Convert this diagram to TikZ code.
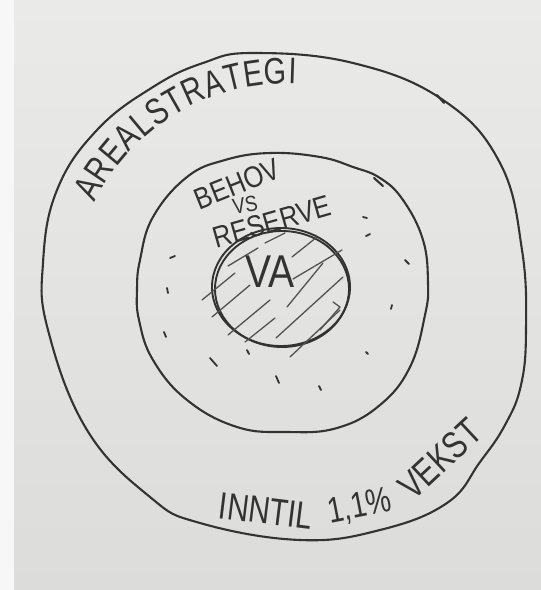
\documentclass[tikz,border=0pt]{standalone}
\usepackage{fontspec}
\newfontfamily\hand[FakeStretch=0.78]{Liberation Sans}
\newfontfamily\handw[FakeStretch=0.85]{Liberation Sans}
\usetikzlibrary{decorations.text}
\definecolor{papertop}{HTML}{EAEAE8}
\definecolor{paperbot}{HTML}{DCDCDA}
\definecolor{paperedge}{HTML}{F7F7F7}
\definecolor{ink}{HTML}{333333}
\tikzset{
  pen/.style={draw=ink, line width=2.1pt, line cap=round, line join=round},
  boldpen/.style={draw=ink, line width=1.9pt, line cap=round},
  hatchline/.style={draw=ink!85, line width=1.3pt, line cap=round, line join=round},
  dotmark/.style={draw=ink, line width=1.8pt, line cap=round},
  handtxt/.style={inner sep=0pt, text=ink}
}
\begin{document}
\begin{tikzpicture}[x=1pt,y=1pt]
\useasboundingbox (0,0) rectangle (541,-590);
\shade[top color=papertop, bottom color=paperbot] (0,0) rectangle (541,-590);
\fill[paperedge] (0,0) rectangle (14,-590);

% outer ring
\draw[pen] plot[smooth cycle, tension=0.7] coordinates {
  (253,-53) (353,-63) (443,-100) (500,-163) (522,-250) (526,-330) (521,-385)
  (505,-425) (480,-462) (447,-503) (380,-530) (300,-540) (200,-523) (150,-497)
  (87,-430) (48,-330) (43,-263) (57,-190) (97,-130) (153,-87) (203,-63)};
\draw[pen] (437,-95) -- (444,-103);

% middle ring
\draw[pen] plot[smooth cycle, tension=0.7] coordinates {
  (270,-153) (320,-157) (353,-167) (380,-178) (403,-200) (423,-240) (428,-283)
  (425,-315) (410,-367) (380,-405) (337,-428) (287,-432) (237,-427) (187,-400)
  (153,-360) (139,-320) (137,-290) (140,-260) (153,-217) (187,-177) (225,-160)};
\draw[pen] (374,-178) -- (383,-186);

% centre circle (double stroke)
\draw[boldpen] (281,-287) ellipse [x radius=69, y radius=59];
\draw[boldpen] (282,-289) ellipse [x radius=67, y radius=58];

% hatching
\draw[hatchline] (202,-300) -- (235,-273);
\draw[hatchline] (212,-317) -- (250,-285);
\draw[hatchline] (228,-335) -- (270,-300);
\draw[hatchline] (245,-342) -- (275,-318);
\draw[hatchline] (276,-338) -- (343,-277);
\draw[hatchline] (290,-357) -- (340,-310);
\draw[hatchline] (287,-307) -- (323,-263);
\draw[hatchline] (333,-302) -- (340,-307) -- (320,-330);
\draw[hatchline] (228,-266) -- (258,-248);
\draw[hatchline] (265,-243) -- (285,-233);
\draw[hatchline] (292,-257) -- (317,-237);
\draw[hatchline] (293,-279) -- (342,-250);

% dots in the middle ring
\draw[dotmark] (363,-217) -- (367,-218);
\draw[dotmark] (366,-236) -- (370,-234);
\draw[dotmark] (170,-258) -- (175,-256);
\draw[dotmark] (405,-260) -- (409,-264);
\draw[dotmark] (167,-288) -- (168,-293);
\draw[dotmark] (392,-305) -- (391,-309);
\draw[dotmark] (164,-332) -- (166,-337);
\draw[dotmark] (210,-358) -- (217,-366);
\draw[dotmark] (247,-350) -- (249,-354);
\draw[dotmark] (366,-352) -- (368,-354);
\draw[dotmark] (276,-376) -- (279,-383);
\draw[dotmark] (319,-386) -- (321,-390);

% title along the top of the outer ring
\path[shift={(285,-296)}, decorate, decoration={text along path,
  text={|\hand\fontsize{37}{39}\selectfont\color{ink}|AREALSTRATEGI},
  text align={fit to path}}]
  (154:212) arc[start angle=154, end angle=87, radius=212];

% words along the bottom of the outer ring
\node[handtxt, font=\hand\fontsize{38}{38}\selectfont, rotate=-7] (inntil) at (266,-511) {INNTIL};
\node[handtxt, font=\hand\fontsize{36}{36}\selectfont, rotate=11] (pct) at (360,-507) {1,1\%};
\node[handtxt, font=\hand\fontsize{38}{38}\selectfont, rotate=43] (vekst) at (440,-459) {VEKST};

% texts inside
\node[handtxt, font=\handw\fontsize{30}{30}\selectfont, rotate=22] (behov) at (237,-184) {BEHOV};
\node[handtxt, font=\handw\fontsize{22}{22}\selectfont, rotate=10] (vs) at (245,-205) {VS};
\node[handtxt, font=\handw\fontsize{30}{30}\selectfont, rotate=16] (reserve) at (272,-222) {RESERVE};
\node[handtxt, font=\handw\fontsize{46}{46}\selectfont] (va) at (270,-272) {VA};
\end{tikzpicture}
\end{document}
